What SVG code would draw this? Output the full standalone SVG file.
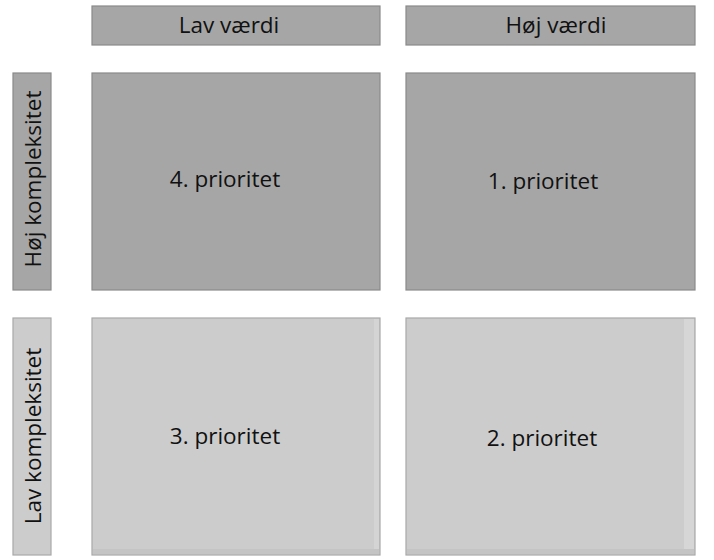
<svg xmlns="http://www.w3.org/2000/svg" width="714" height="560" viewBox="0 0 714 560">
<style>
.dark{fill:#a6a6a6;stroke:#8a8a8a;stroke-width:1.2}
.light{fill:#cccccc;stroke:#a8a8a8;stroke-width:1.2}
.t{font-family:"Open Sans","Noto Sans",sans-serif;font-size:22.5px;fill:#111;text-anchor:middle}
</style>
<rect width="714" height="560" fill="#ffffff"/>
<g id="hdr-lav"><rect class="dark" x="92" y="6" width="288" height="39"/><text class="t" x="229" y="33">Lav værdi</text></g>
<g id="hdr-hoj"><rect class="dark" x="406" y="6" width="289" height="39"/><text class="t" x="556" y="33">Høj værdi</text></g>
<g id="row-hoj"><rect class="dark" x="13" y="73" width="38" height="217"/><text class="t" transform="translate(41,179) rotate(-90)">Høj kompleksitet</text></g>
<g id="row-lav"><rect class="light" x="13" y="318" width="38" height="237"/><text class="t" transform="translate(41,436) rotate(-90)">Lav kompleksitet</text></g>
<g id="q4"><rect class="dark" x="92" y="73" width="288" height="217"/><text class="t" x="225" y="187">4. prioritet</text></g>
<g id="q1"><rect class="dark" x="406" y="73" width="289" height="217"/><text class="t" x="543" y="189">1. prioritet</text></g>
<g id="q3"><rect class="light" x="92" y="318" width="288" height="237"/><rect x="374" y="319" width="5" height="235" fill="#d4d4d4"/><rect x="93" y="549" width="286" height="5" fill="#c4c4c4"/><text class="t" x="225" y="444">3. prioritet</text></g>
<g id="q2"><rect class="light" x="406" y="318" width="289" height="237"/><rect x="684" y="319" width="10" height="235" fill="#d6d6d6"/><rect x="407" y="549" width="287" height="5" fill="#c4c4c4"/><text class="t" x="542" y="446">2. prioritet</text></g>
<g id="connectors"></g>
</svg>
